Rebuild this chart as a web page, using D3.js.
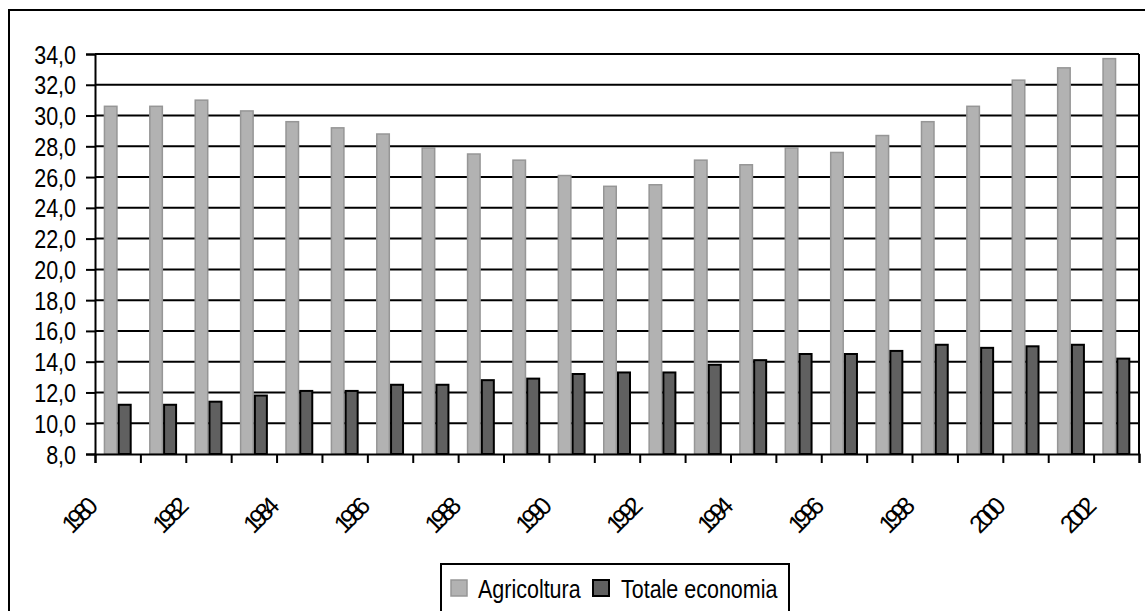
<!DOCTYPE html>
<html>
<head>
<meta charset="utf-8">
<script src="https://cdn.jsdelivr.net/npm/d3@7"></script>
<style>
  html, body { margin: 0; padding: 0; background: #fff; }
  svg { display: block; }
  text { font-family: "Liberation Sans", Arial, sans-serif; fill: #000; }
</style>
</head>
<body>
<svg id="chart" width="1145" height="611"></svg>
<script>
// Years on the category axis
const years = ["1980","1981","1982","1983","1984","1985","1986","1987","1988","1989","1990","1991",
               "1992","1993","1994","1995","1996","1997","1998","1999","2000","2001","2002"];
// Years that carry a label
const labelYears = ["1980","1982","1984","1986","1988","1990","1992","1994","1996","1998","2000","2002"];
// Series values
const agricoltura = [30.6, 30.6, 31.0, 30.3, 29.6, 29.2, 28.8, 27.9, 27.5, 27.1, 26.1, 25.4,
                     25.5, 27.1, 26.8, 27.9, 27.6, 28.7, 29.6, 30.6, 32.3, 33.1, 33.7];
const totaleEconomia = [11.2, 11.2, 11.4, 11.8, 12.1, 12.1, 12.5, 12.5, 12.8, 12.9, 13.2, 13.3,
                        13.3, 13.8, 14.1, 14.5, 14.5, 14.7, 15.1, 14.9, 15.0, 15.1, 14.2];
const seriesNames = ["Agricoltura", "Totale economia"];
// Value axis ticks
const yTicks = [8, 10, 12, 14, 16, 18, 20, 22, 24, 26, 28, 30, 32, 34];

const rows = years.map((y, i) => ({ year: y, values: [agricoltura[i], totaleEconomia[i]] }));

const fills = ["#b2b2b2", "#606060"];
const strokes = ["#969696", "#000000"];
const sx = 0.86; // horizontal squeeze of the condensed lettering

const svg = d3.select("#chart");
const plot = { left: 95, right: 1139, top: 54, bottom: 454 };

const locale = d3.formatLocale({ decimal: ",", thousands: ".", grouping: [3], currency: ["€", ""] });
const fmt = locale.format(".1f");

const x = d3.scaleBand().domain(years).range([plot.left, plot.right])
  .paddingInner(0.383).paddingOuter(0.1915);
const xSeries = d3.scaleBand().domain([0, 1]).range([0, x.bandwidth()]).padding(0);
const y = d3.scaleLinear().domain([8, 34]).range([plot.bottom, plot.top]);
const xEdge = d3.scaleLinear().domain([0, years.length]).range([plot.left, plot.right]);

// Outer chart frame
svg.append("rect")
  .attr("x", 9).attr("y", 10).attr("width", 1160).attr("height", 640)
  .attr("fill", "none").attr("stroke", "#000").attr("stroke-width", 2);

// Horizontal gridlines
svg.append("g")
  .selectAll("line")
  .data(yTicks.filter(v => v > 8))
  .join("line")
  .attr("x1", plot.left).attr("x2", plot.right)
  .attr("y1", d => y(d)).attr("y2", d => y(d))
  .attr("stroke", "#000").attr("stroke-width", 2);

// Bars
const groups = svg.append("g")
  .selectAll("g")
  .data(rows)
  .join("g")
  .attr("transform", d => `translate(${x(d.year)},0)`);

groups.selectAll("rect")
  .data(d => d.values.map((v, k) => ({ v, k })))
  .join("rect")
  .attr("x", d => xSeries(d.k) + (d.k === 0 ? 0.75 : 1))
  .attr("width", d => xSeries.bandwidth() - (d.k === 0 ? 1.5 : 2))
  .attr("y", d => y(d.v))
  .attr("height", d => y(8) - y(d.v))
  .attr("fill", d => fills[d.k])
  .attr("stroke", d => strokes[d.k])
  .attr("stroke-width", d => d.k === 0 ? 1.5 : 2);

// Right edge of the plot area
svg.append("line")
  .attr("x1", plot.right).attr("x2", plot.right)
  .attr("y1", plot.top).attr("y2", plot.bottom)
  .attr("stroke", "#000").attr("stroke-width", 2);

// Value axis
const yAxis = svg.append("g")
  .attr("transform", `translate(${plot.left},0)`)
  .call(d3.axisLeft(y).tickValues(yTicks).tickFormat(fmt).tickSize(9).tickPadding(10));
yAxis.select(".domain").attr("stroke", "#000").attr("stroke-width", 2);
yAxis.selectAll(".tick line").attr("stroke", "#000").attr("stroke-width", 2);
yAxis.selectAll(".tick text")
  .attr("font-size", 25)
  .attr("font-family", "Liberation Sans, Arial, sans-serif")
  .attr("x", -19 / sx)
  .attr("dy", "0.36em")
  .attr("transform", `scale(${sx},1)`);

// Category axis: tick marks between the categories
const xAxisTicks = svg.append("g")
  .attr("transform", `translate(0,${plot.bottom})`)
  .call(d3.axisBottom(xEdge).tickValues(d3.range(0, years.length + 1)).tickFormat("").tickSize(9));
xAxisTicks.select(".domain").attr("stroke", "#000").attr("stroke-width", 2);
xAxisTicks.selectAll(".tick line").attr("stroke", "#000").attr("stroke-width", 2);

// Category axis: rotated year labels with tight, overlapping digits
const xAxisLabels = svg.append("g")
  .attr("transform", `translate(0,${plot.bottom})`)
  .call(d3.axisBottom(x).tickValues(labelYears).tickSize(0));
xAxisLabels.select(".domain").remove();
xAxisLabels.selectAll(".tick text")
  .attr("font-size", 25)
  .attr("font-family", "Liberation Sans, Arial, sans-serif")
  .attr("letter-spacing", "-5.5px")
  .attr("text-anchor", "end")
  .attr("x", 0).attr("y", 0).attr("dy", 0)
  .attr("transform", "translate(-22,57) rotate(-45)");

// Legend
const legend = svg.append("g");
legend.append("rect")
  .attr("x", 441).attr("y", 564).attr("width", 348).attr("height", 80)
  .attr("fill", "#fff").attr("stroke", "#000").attr("stroke-width", 2);
const legendItems = [
  { sw: 451, tx: 478 },
  { sw: 593, tx: 621 }
];
legendItems.forEach((it, k) => {
  legend.append("rect")
    .attr("x", it.sw).attr("y", 580).attr("width", 16).attr("height", 16)
    .attr("fill", fills[k]).attr("stroke", strokes[k]).attr("stroke-width", k === 0 ? 1.5 : 2);
  legend.append("text")
    .attr("x", it.tx / sx).attr("y", 598)
    .attr("transform", `scale(${sx},1)`)
    .attr("font-size", 25)
    .text(seriesNames[k]);
});
</script>
</body>
</html>
